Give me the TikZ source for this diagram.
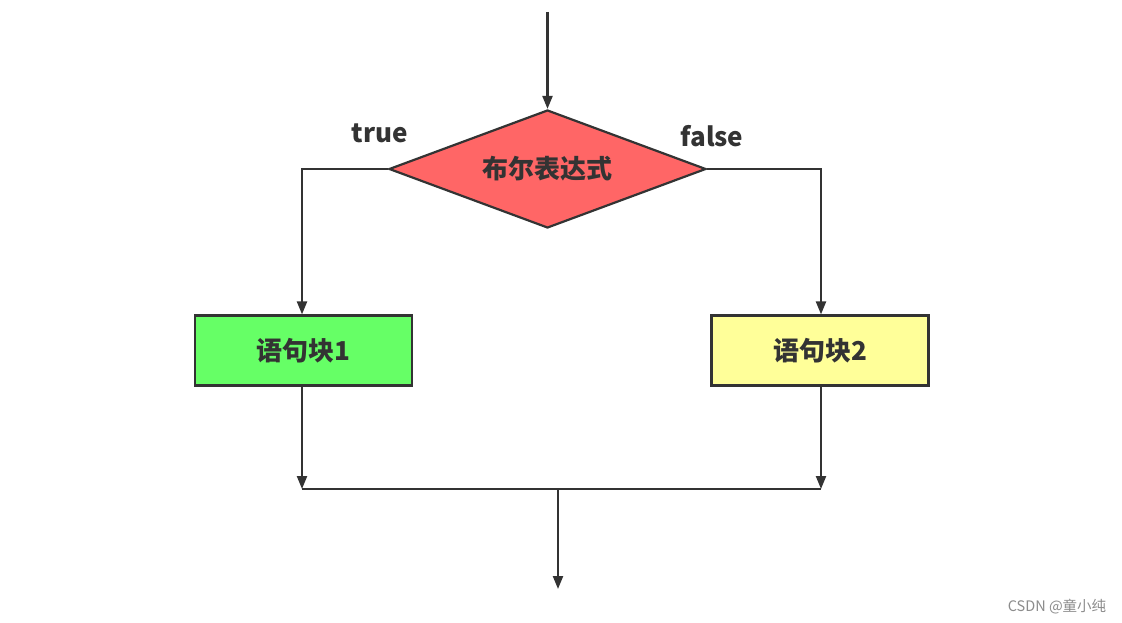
\documentclass[tikz,border=0pt]{standalone}
\usepackage{fontspec}
\setmainfont{Noto Sans CJK SC}
\newfontfamily\cjk{Noto Sans CJK SC}
\usetikzlibrary{shapes.geometric,arrows.meta}
\definecolor{ink}{HTML}{333333}
\definecolor{dred}{HTML}{FF6666}
\definecolor{bgreen}{HTML}{66FF66}
\definecolor{byellow}{HTML}{FFFF99}
\begin{document}
\begin{tikzpicture}[x=1pt,y=-1pt,
  conn/.style={draw=ink,line width=2.2pt},
  arr/.style={conn,-{Triangle[length=13pt,width=10pt]}},
  stmt/.style={draw=ink,line width=2.2pt,minimum width=217pt,minimum height=70pt,inner sep=0pt,
    font=\cjk\bfseries\fontsize{26}{30}\selectfont,text=ink},
  lbl/.style={font=\cjk\bfseries\fontsize{26}{30}\selectfont,text=ink}]
\useasboundingbox (0,0) rectangle (1122,623);
\fill[white] (0,0) rectangle (1122,623);
\node[diamond,aspect=2.7,draw=ink,line width=2.2pt,fill=dred,minimum width=317pt,minimum height=118pt,inner sep=0pt,
  font=\cjk\bfseries\fontsize{26}{30}\selectfont,text=ink] (d) at (547.5,169) {布尔表达式};
\node[stmt,fill=bgreen] (b1) at (303.5,350.5) {语句块1};
\node[stmt,fill=byellow] (b2) at (820,350.5) {语句块2};
\coordinate (top) at (547.5,12);
\coordinate (j1) at (302,489);
\coordinate (j2) at (821,489);
\coordinate (m) at (558,489);
\coordinate (e) at (558,589);
\draw[arr] (top) -- (d.north);
\draw[arr] (d.west) -| ([xshift=-1.5pt]b1.north);
\draw[arr] (d.east) -| ([xshift=1pt]b2.north);
\draw[arr] ([xshift=-1.5pt]b1.south) -- (j1);
\draw[arr] ([xshift=1pt]b2.south) -- (j2);
\draw[conn] (j1) -- (j2);
\draw[arr] (m) -- (e);
\node[lbl] (t) at (380,133) {true};
\node[lbl] (f) at (712,136) {false};
\node[font=\cjk\fontsize{14.5}{17}\selectfont,text=black!45] (w) at (1057,607) {CSDN @童小纯};
\end{tikzpicture}
\end{document}
